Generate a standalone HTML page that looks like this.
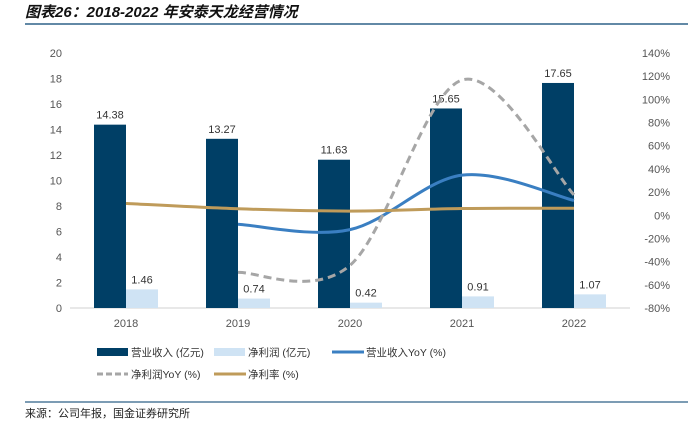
<!DOCTYPE html>
<html><head><meta charset="utf-8"><style>
body{margin:0;width:698px;height:424px;background:#fff;overflow:hidden;font-family:"Liberation Sans","Noto Sans CJK SC",sans-serif;}
</style></head><body>
<svg width="698" height="424" xmlns="http://www.w3.org/2000/svg">
<text x="25" y="17" font-size="15" font-style="italic" font-weight="bold" fill="#111" font-family="Liberation Sans,Noto Sans CJK SC,sans-serif">图表26：2018-2022 年安泰天龙经营情况</text>
<line x1="25" y1="24" x2="688" y2="24" stroke="#2f6288" stroke-width="1.5"/>
<g id="axes"></g><g id="marks"></g>
<g font-size="10.5" fill="#333">
<g><rect x="97" y="348" width="31" height="8" fill="#003f66"/><text x="131" y="356">营业收入 (亿元)</text></g>
<g><rect x="214" y="348" width="31" height="8" fill="#cfe3f4"/><text x="248" y="356">净利润 (亿元)</text></g>
<g><line x1="332" y1="352" x2="364" y2="352" stroke="#3a7fc2" stroke-width="3"/><text x="366" y="356">营业收入YoY (%)</text></g>
<g><line x1="97" y1="374" x2="128" y2="374" stroke="#a6a6a6" stroke-width="3" stroke-dasharray="6,3"/><text x="131" y="378">净利润YoY (%)</text></g>
<g><line x1="214" y1="374" x2="246" y2="374" stroke="#bf9b5a" stroke-width="3"/><text x="248" y="378">净利率 (%)</text></g>
</g>
<line x1="25" y1="402" x2="688" y2="402" stroke="#2f6288" stroke-width="1.2"/>
<text x="25" y="417" font-size="11" fill="#222">来源：公司年报，国金证券研究所</text>
</svg>
<script>
const categories=["2018","2019","2020","2021","2022"];
const revenue=[14.38,13.27,11.63,15.65,17.65];
const netProfit=[1.46,0.74,0.42,0.91,1.07];
const revenueYoY=[null,-7.7,-12.4,34.6,12.8];
const profitYoY=[null,-49.3,-43.2,116.7,17.6];
const netMargin=[10.2,5.6,3.6,5.8,6.1];
const leftTicks=[0,2,4,6,8,10,12,14,16,18,20];
const rightTicks=[-80,-60,-40,-20,0,20,40,60,80,100,120,140];

const NS="http://www.w3.org/2000/svg";
const x0=70,x1=630,yB=308,yT=53;
const band=(x1-x0)/categories.length;
const cx=i=>x0+band*(i+0.5);
const yL=v=>yB-(v/20)*(yB-yT);
const yR=v=>yB-((v+80)/220)*(yB-yT);
function mk(t,a,p){const e=document.createElementNS(NS,t);for(const k in a)e.setAttribute(k,a[k]);p.appendChild(e);return e;}
const axes=document.getElementById('axes'),marks=document.getElementById('marks');
leftTicks.forEach(v=>{const t=mk('text',{x:62,y:yL(v)+4,'font-size':11,fill:'#555','text-anchor':'end'},axes);t.textContent=v;

});
rightTicks.forEach(v=>{const t=mk('text',{x:670,y:yR(v)+4,'font-size':11,fill:'#555','text-anchor':'end'},axes);t.textContent=v+'%';

});
const ax=mk('line',{x1:x0,y1:yB,x2:x1,y2:yB,stroke:'#d0d0d0'},axes);


categories.forEach((c,i)=>{const t=mk('text',{x:cx(i),y:327,'font-size':11,fill:'#555','text-anchor':'middle'},axes);t.textContent=c;


const b=mk('rect',{x:cx(i)-32,y:yL(revenue[i]),width:32,height:yB-yL(revenue[i]),fill:'#003f66'},marks);


const n=mk('rect',{x:cx(i),y:yL(netProfit[i]),width:32,height:yB-yL(netProfit[i]),fill:'#cfe3f4'},marks);


const l1=mk('text',{x:cx(i)-16,y:yL(revenue[i])-6,'font-size':11,fill:'#333','text-anchor':'middle'},marks);l1.textContent=revenue[i].toFixed(2);


const l2=mk('text',{x:cx(i)+16,y:yL(netProfit[i])-6,'font-size':11,fill:'#333','text-anchor':'middle'},marks);l2.textContent=netProfit[i].toFixed(2);

});
function smooth(vals,yf){const p=[];vals.forEach((v,i)=>{if(v!==null)p.push([cx(i),yf(v)]);});
let d='M'+p[0][0]+','+p[0][1];const t=0.5/3*2;
for(let i=0;i<p.length-1;i++){const a=p[i-1]||p[i],b=p[i],c=p[i+1],e=p[i+2]||c;
const c1=[b[0]+(c[0]-a[0])*t/2,b[1]+(c[1]-a[1])*t/2],c2=[c[0]-(e[0]-b[0])*t/2,c[1]-(e[1]-b[1])*t/2];
d+=` C${c1[0]},${c1[1]} ${c2[0]},${c2[1]} ${c[0]},${c[1]}`;}return d;}
const s1=mk('path',{d:smooth(revenueYoY,yR),fill:'none',stroke:'#3a7fc2','stroke-width':3},marks);


const s2=mk('path',{d:smooth(profitYoY,yR),fill:'none',stroke:'#a6a6a6','stroke-width':3,'stroke-dasharray':'8,5'},marks);


const s3=mk('path',{d:smooth(netMargin,yR),fill:'none',stroke:'#bf9b5a','stroke-width':3},marks);


</script>
</body></html>
